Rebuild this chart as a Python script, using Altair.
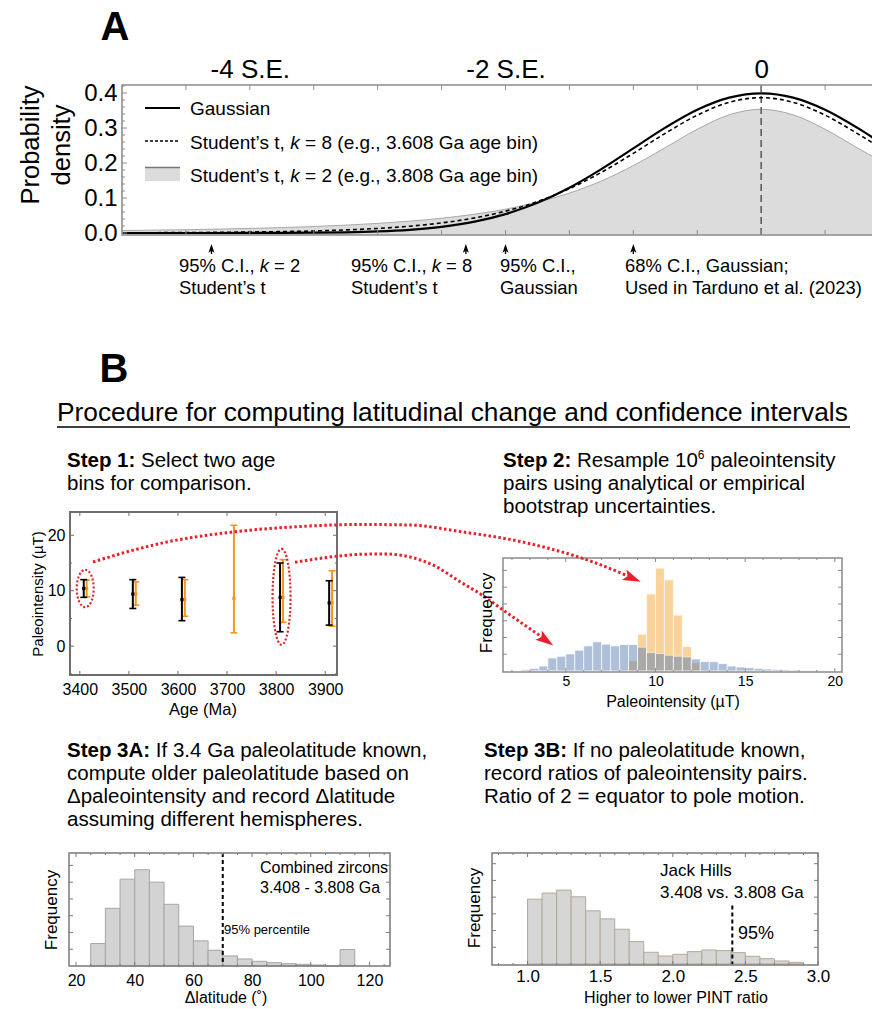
import altair as alt
import pandas as pd

FONT = "Liberation Sans, Arial, Helvetica, sans-serif"
W, H = 872, 1009

# ---------------- Panel A: probability densities vs. standard errors ----------------
se_units = [-5.0, -4.75, -4.5, -4.25, -4.0, -3.75, -3.5, -3.25, -3.0, -2.75, -2.5, -2.25,
            -2.0, -1.75, -1.5, -1.25, -1.0, -0.75, -0.5, -0.25, 0.0, 0.25, 0.5, 0.75, 1.0]
dens_gauss = [0.0000, 0.0000, 0.0000, 0.0000, 0.0001, 0.0004, 0.0009, 0.0020, 0.0044, 0.0091,
              0.0175, 0.0317, 0.0540, 0.0863, 0.1295, 0.1826, 0.2420, 0.3011, 0.3521, 0.3867,
              0.3989, 0.3867, 0.3521, 0.3011, 0.2420]
dens_t8 = [0.0007, 0.0009, 0.0013, 0.0019, 0.0028, 0.0040, 0.0059, 0.0088, 0.0130, 0.0194,
           0.0288, 0.0426, 0.0624, 0.0899, 0.1268, 0.1733, 0.2276, 0.2848, 0.3367, 0.3734,
           0.3867, 0.3734, 0.3367, 0.2848, 0.2276]
dens_t2 = [0.0071, 0.0082, 0.0095, 0.0111, 0.0131, 0.0155, 0.0186, 0.0225, 0.0274, 0.0338,
           0.0422, 0.0533, 0.0680, 0.0878, 0.1141, 0.1487, 0.1925, 0.2438, 0.2963, 0.3376,
           0.3536, 0.3376, 0.2963, 0.2438, 0.1925]
ci_positions = [-4.30, -2.31, -2.0, -1.0]
se_label_values = [-4, -2, 0]
density_ticks = [0.0, 0.1, 0.2, 0.3, 0.4]

# ---------------- Step 1: paleointensity per age bin ----------------
ages_black = [3408, 3508, 3608, 3808, 3908]
pint_black = [10.4, 9.4, 8.4, 8.8, 7.8]
low_black = [8.8, 6.8, 4.6, 2.6, 3.8]
high_black = [12.0, 12.0, 12.4, 15.0, 11.8]
ages_orange = [3414, 3514, 3614, 3714, 3814, 3914]
pint_orange = [10.4, 9.4, 8.4, 8.6, 8.8, 7.8]
low_orange = [8.9, 7.4, 5.4, 2.4, 4.3, 3.6]
high_orange = [11.9, 11.6, 12.0, 21.8, 15.6, 13.6]
age_ticks = [3400, 3500, 3600, 3700, 3800, 3900]
pint_ticks = [0, 10, 20]
selected_bins = [(3411, 10.4), (3811, 8.9)]

# ---------------- Step 2: resampled paleointensity histograms ----------------
blue_bin_start = [2.5, 3.0, 3.5, 4.0, 4.5, 5.0, 5.5, 6.0, 6.5, 7.0, 7.5, 8.0, 8.5, 9.0, 9.5,
                  10.0, 10.5, 11.0, 11.5, 12.0, 12.5, 13.0, 13.5, 14.0, 14.5, 15.0, 15.5,
                  16.0, 16.5, 17.0, 17.5, 18.0, 18.5, 19.0]
blue_freq = [4, 8, 15, 39, 44, 51, 62, 75, 87, 80, 75, 79, 79, 71, 55,
             52, 47, 44, 42, 36, 28, 28, 22, 15, 12, 10, 8,
             6, 5, 4, 3, 2, 2, 1]
orange_bin_start = [8.0, 8.5, 9.0, 9.5, 10.0, 10.5, 11.0, 11.5, 12.0, 12.5]
orange_freq = [3, 30, 110, 230, 307, 272, 167, 73, 25, 3]
pint_bin_width = 0.5
pint_hist_ticks = [5, 10, 15, 20]

# ---------------- Step 3A: latitude change histogram ----------------
dlat_bin_start = [25, 30, 35, 40, 45, 50, 55, 60, 65, 70, 75, 80, 85, 90, 95, 100, 105, 110]
dlat_freq = [67, 172, 259, 287, 250, 184, 119, 75, 47, 30, 21, 14, 10, 7, 5, 3, 0, 49]
dlat_bin_width = 5
dlat_p95 = 70
dlat_ticks = [20, 40, 60, 80, 100, 120]

# ---------------- Step 3B: paleointensity ratio histogram ----------------
ratio_bin_start = [1.0, 1.1, 1.2, 1.3, 1.4, 1.5, 1.6, 1.7, 1.8, 1.9,
                   2.0, 2.1, 2.2, 2.3, 2.4, 2.5, 2.6, 2.7, 2.8]
ratio_freq = [194, 212, 221, 201, 159, 135, 104, 67, 35, 24,
              29, 37, 42, 40, 34, 23, 16, 9, 5]
ratio_bin_width = 0.1
ratio_p95 = 2.41
ratio_p95_height = 175
ratio_ticks = [1.0, 1.5, 2.0, 2.5, 3.0]


# ---------------- layout: plot boxes (left, right, top, bottom) and scales ----------------
def box_scale(domain, rng):
    return alt.Scale(domain=domain, range=rng, nice=False, zero=False)


A_BOX = (122, 873, 85, 235)
A_X = box_scale([-5.0, 0.867], [122, 872])
A_YLO = -0.0057
A_Y = box_scale([A_YLO, 0.4229], [235, 85])

S1_BOX = (70, 337, 512, 675)
S1_X = box_scale([3380, 3924], [70, 337])
S1_Y = box_scale([-5.2, 24.2], [675, 512])

S2_BOX = (503, 842, 558, 672)
S2_X = box_scale([1.5, 20.4], [503, 842])
S2_Y = box_scale([-3, 337], [672, 558])

S3A_BOX = (69, 390, 853, 966)
S3A_X = box_scale([17.6, 127.0], [69, 390])
S3A_Y = box_scale([0, 337], [966, 853])

S3B_BOX = (492, 818, 853, 965)
S3B_X = box_scale([0.755, 3.0], [492, 818])
S3B_Y = box_scale([-3, 332], [965, 853])

layers = []
ONE = pd.DataFrame({"z": [0]})


def qx(field, scale, axis=None):
    return alt.X(f"{field}:Q", scale=scale, axis=axis)


def qy(field, scale, axis=None):
    return alt.Y(f"{field}:Q", scale=scale, axis=axis)


def px(field):
    return alt.X(f"{field}:Q", scale=None, axis=None)


def py(field):
    return alt.Y(f"{field}:Q", scale=None, axis=None)


def axis(orient, offset, values, size, pad, fmt=None, expr=None):
    kw = dict(orient=orient, offset=offset, values=values, domain=False, ticks=False, grid=False,
              labelFont=FONT, labelFontSize=size, labelColor="black", labelPadding=pad,
              labelFlush=False, labelOverlap=False, title=None)
    if fmt:
        kw["format"] = fmt
    if expr:
        kw["labelExpr"] = expr
    return alt.Axis(**kw)


def frame(box, sx, sy, xmaj, xmin, ymaj, ymin, color, sw, lmaj=5, lmin=3, right=True):
    left, rgt, top, bottom = box
    out = [alt.Chart(ONE).mark_rect(filled=False, stroke=color, strokeWidth=sw).encode(
        x=alt.value(left), x2=alt.value(rgt), y=alt.value(top), y2=alt.value(bottom))]
    xr = []
    for vals, ln in ((xmaj, lmaj), (xmin, lmin)):
        for v in vals:
            xr.append((v, bottom, bottom - ln))
            xr.append((v, top, top + ln))
    if xr:
        d = pd.DataFrame(xr, columns=["v", "p0", "p1"])
        out.append(alt.Chart(d).mark_rule(color=color, strokeWidth=1).encode(
            x=qx("v", sx), y=py("p0"), y2="p1:Q"))
    yr = []
    for vals, ln in ((ymaj, lmaj), (ymin, lmin)):
        for v in vals:
            yr.append((v, left, left + ln))
            if right:
                yr.append((v, rgt, rgt - ln))
    if yr:
        d = pd.DataFrame(yr, columns=["v", "p0", "p1"])
        out.append(alt.Chart(d).mark_rule(color=color, strokeWidth=1).encode(
            y=qy("v", sy), x=px("p0"), x2="p1:Q"))
    return out


def bars(starts, freqs, width, sx, sy, fill, stroke, opacity=1.0, sw=1.0, x_axis=None):
    d = pd.DataFrame({"lo": starts, "f": freqs})
    d["hi"] = d["lo"] + width
    return alt.Chart(d).mark_bar(fill=fill, stroke=stroke, strokeWidth=sw, opacity=opacity).encode(
        x=qx("lo", sx, x_axis), x2="hi:Q", y=qy("f", sy), y2=alt.datum(0))


# ---------------- text helpers ----------------
REG_W = {}
for chars, w in [("0123456789", 556), ("abdeghnopqu", 556), ("ckvxyzsJ", 500),
                 ("fIt ,.:;!/", 278), ("ijl", 222), ("r()-", 333), ("mM", 833), ("w", 722),
                 ("ABEKPSVXY", 667), ("CDHNRU", 722), ("FTZ", 611), ("GOQ", 778), ("L", 556),
                 ("W", 944), ("%", 889), ("=", 584), ("'", 191), ("\u2019", 222),
                 ("\u0394", 668), ("\u00b5", 556)]:
    for ch in chars:
        REG_W[ch] = w
BOLD_W = {"A": 722, "B": 722, "S": 667, "t": 333, "e": 556, "p": 611, ":": 333, " ": 278}


def tw(s, size, bold=False):
    total = 0
    for ch in s:
        total += BOLD_W.get(ch, REG_W.get(ch, 556)) if bold else REG_W.get(ch, 556)
    return total * size / 1000.0


TEXT_ROWS = {}


def put(txt, x, y, size, weight="normal", style="normal", align="left", angle=0):
    TEXT_ROWS.setdefault((size, weight, style, align, angle), []).append((txt, x, y))


def put_run(segments, x, y):
    cx = x
    for seg in segments:
        txt, size = seg[0], seg[1]
        weight = seg[2] if len(seg) > 2 else "normal"
        style = seg[3] if len(seg) > 3 else "normal"
        rise = seg[4] if len(seg) > 4 else 0
        body = txt.lstrip(" ")
        cx += tw(txt[: len(txt) - len(body)], size, weight == "bold")
        put(body.rstrip(" "), cx, y - rise, size, weight, style)
        cx += tw(body, size, weight == "bold")


# ================= Panel A =================
dfA = pd.DataFrame({"se": se_units, "g": dens_gauss, "t8": dens_t8, "t2": dens_t2})
layers.append(alt.Chart(dfA).mark_area(color="#DCDCDC", interpolate="monotone").encode(
    x=qx("se", A_X), y=qy("t2", A_Y), y2=alt.datum(A_YLO)))
layers.append(alt.Chart(dfA).mark_line(color="#A8A8A8", strokeWidth=1, interpolate="monotone").encode(
    x=qx("se", A_X), y=qy("t2", A_Y)))
layers.append(alt.Chart(pd.DataFrame({"v": [0.0]})).mark_rule(
    color="#555555", strokeWidth=1.5, strokeDash=[7, 4]).encode(
    x=qx("v", A_X), y=alt.value(85), y2=alt.value(235)))
layers.append(alt.Chart(dfA).mark_line(color="black", strokeWidth=1.6, strokeDash=[4, 3],
                                       interpolate="monotone").encode(
    x=qx("se", A_X), y=qy("t8", A_Y)))
layers.append(alt.Chart(dfA).mark_line(color="black", strokeWidth=2.2, interpolate="monotone").encode(
    x=qx("se", A_X, axis("top", -85, se_label_values, 26, 3,
                          expr="datum.value == 0 ? '0' : datum.value + ' S.E.'")),
    y=qy("g", A_Y, axis("left", -122, density_ticks, 24, 5, fmt=".1f"))))
layers += frame(A_BOX, A_X, A_Y,
                [-4.5 + 0.5 * i for i in range(11)], [],
                density_ticks, [round(0.02 * i, 2) for i in range(22) if i % 5],
                "#8C8C8C", 1.6, lmaj=5, lmin=3, right=False)

# confidence-interval arrows below the axis
ARROW_UP = "M0,-1L0.65,0.9L0,0.45L-0.65,0.9Z"
dfCI = pd.DataFrame({"v": ci_positions})
layers.append(alt.Chart(dfCI).mark_rule(color="black", strokeWidth=1.3).encode(
    x=qx("v", A_X), y=alt.value(247), y2=alt.value(254)))
layers.append(alt.Chart(dfCI).mark_point(shape=ARROW_UP, size=85, filled=True, color="black",
                                         opacity=1).encode(x=qx("v", A_X), y=alt.value(248.6)))

# legend
layers.append(alt.Chart(ONE).mark_rule(color="black", strokeWidth=2).encode(
    x=alt.value(145), x2=alt.value(180), y=alt.value(108)))
layers.append(alt.Chart(ONE).mark_rule(color="black", strokeWidth=1.5, strokeDash=[3, 2]).encode(
    x=alt.value(145), x2=alt.value(180), y=alt.value(141)))
layers.append(alt.Chart(ONE).mark_rect(color="#DCDCDC").encode(
    x=alt.value(145), x2=alt.value(180), y=alt.value(167), y2=alt.value(181)))
layers.append(alt.Chart(ONE).mark_rule(color="#777777", strokeWidth=1.5).encode(
    x=alt.value(145), x2=alt.value(180), y=alt.value(167.5)))

LEG = 19
put("Gaussian", 190, 115, LEG)
put_run([("Student\u2019s t, ", LEG), ("k", LEG, "normal", "italic"),
         (" = 8 (e.g., 3.608 Ga age bin)", LEG)], 190, 148.5)
put_run([("Student\u2019s t, ", LEG), ("k", LEG, "normal", "italic"),
         (" = 2 (e.g., 3.808 Ga age bin)", LEG)], 190, 182)

ANN = 18.4
put_run([("95% C.I., ", ANN), ("k", ANN, "normal", "italic"), (" = 2", ANN)], 179, 272)
put("Student\u2019s t", 179, 294, ANN)
put_run([("95% C.I., ", ANN), ("k", ANN, "normal", "italic"), (" = 8", ANN)], 351, 272)
put("Student\u2019s t", 351, 294, ANN)
put("95% C.I.,", 500, 272, ANN)
put("Gaussian", 500, 294, ANN)
put("68% C.I., Gaussian;", 625, 272, ANN)
put("Used in Tarduno et al. (2023)", 625, 294, ANN)

put("Probability", 31, 145, 25.5, align="center", angle=270)
put("density", 62, 145, 25.5, align="center", angle=270)
put("A", 115, 40, 40, weight="bold", align="center")

# ================= Section B headings =================
put("B", 114, 382, 40, weight="bold", align="center")
put("Procedure for computing latitudinal change and confidence intervals", 57, 421, 26.3)
layers.append(alt.Chart(ONE).mark_rule(color="black", strokeWidth=1.5).encode(
    x=alt.value(57), x2=alt.value(850), y=alt.value(427)))

ST = 20.5
put_run([("Step 1:", ST, "bold"), (" Select two age", ST)], 67, 467)
put("bins for comparison.", 67, 490, ST)
put_run([("Step 2:", ST, "bold"), (" Resample 10", ST), ("6", 12, "normal", "normal", 8),
         (" paleointensity", ST)], 503, 467)
put("pairs using analytical or empirical", 503, 490, ST)
put("bootstrap uncertainties.", 503, 513, ST)
put_run([("Step 3A:", ST, "bold"), (" If 3.4 Ga paleolatitude known,", ST)], 67, 757)
put("compute older paleolatitude based on", 67, 780, ST)
put("\u0394paleointensity and record \u0394latitude", 67, 803, ST)
put("assuming different hemispheres.", 67, 826, ST)
put_run([("Step 3B:", ST, "bold"), (" If no paleolatitude known,", ST)], 484, 757)
put("record ratios of paleointensity pairs.", 484, 780, ST)
put("Ratio of 2 = equator to pole motion.", 484, 803, ST)

# ================= Step 1 panel =================
layers += frame(S1_BOX, S1_X, S1_Y, age_ticks, [], pint_ticks, [-5, 5, 15], "#6E6E6E", 2,
                lmaj=4, lmin=2)
ORANGE = "#F7941D"
for ages, mid, lo, hi, col, first in ((ages_orange, pint_orange, low_orange, high_orange, ORANGE, False),
                                      (ages_black, pint_black, low_black, high_black, "black", True)):
    d = pd.DataFrame({"age": ages, "mid": mid, "lo": lo, "hi": hi})
    if first:
        ex = axis("bottom", -(H - 675), age_ticks, 16, 6, fmt="d")
        ey = axis("left", -70, pint_ticks, 16, 5, fmt="d")
    else:
        ex = ey = None
    layers.append(alt.Chart(d).mark_rule(color=col, strokeWidth=2).encode(
        x=qx("age", S1_X, ex), y=qy("lo", S1_Y, ey), y2="hi:Q"))
    caps = pd.DataFrame({"age": ages + ages, "cap": lo + hi})
    layers.append(alt.Chart(caps).mark_point(shape="stroke", size=49, filled=False, color=col,
                                             strokeWidth=1.6, opacity=1).encode(
        x=qx("age", S1_X), y=qy("cap", S1_Y)))
    layers.append(alt.Chart(d).mark_point(shape="square", size=10, filled=True, color=col,
                                          opacity=1).encode(x=qx("age", S1_X), y=qy("mid", S1_Y)))


def ellipse_path(a):
    k = 0.5523
    return (f"M0,-1C{a * k:.4f},-1 {a:.4f},{-k} {a:.4f},0"
            f"C{a:.4f},{k} {a * k:.4f},1 0,1"
            f"C{-a * k:.4f},1 {-a:.4f},{k} {-a:.4f},0"
            f"C{-a:.4f},{-k} {-a * k:.4f},-1 0,-1Z")


RED = "#E8202A"
for (age, val), half_h, half_w in zip(selected_bins, (18.7, 48.0), (8.5, 9.0)):
    d = pd.DataFrame({"age": [age], "v": [val]})
    layers.append(alt.Chart(d).mark_point(shape=ellipse_path(half_w / half_h), size=(2 * half_h) ** 2,
                                          filled=False, color=RED, strokeWidth=2.2,
                                          strokeDash=[2, 2], opacity=1).encode(
        x=qx("age", S1_X), y=qy("v", S1_Y)))

put("Paleointensity (\u00b5T)", 38, 594, 15, align="center", angle=270)
put("Age (Ma)", 203, 715, 16.5, align="center")

# ================= Step 2 panel =================
layers.append(bars(orange_bin_start, orange_freq, pint_bin_width, S2_X, S2_Y, "#F7A937", "white",
                   opacity=0.5, sw=0.8,
                   x_axis=axis("bottom", -(H - 672), pint_hist_ticks, 14, 2, fmt="d")))
layers.append(bars(blue_bin_start, blue_freq, pint_bin_width, S2_X, S2_Y, "#5E81B5", "white",
                   opacity=0.5, sw=0.8))
layers += frame(S2_BOX, S2_X, S2_Y, pint_hist_ticks, [v for v in range(2, 21) if v % 5],
                [50, 100, 150, 200, 250, 300], [], "#8A8A8A", 1.5, lmaj=4, lmin=2)
put("Frequency", 487, 613, 17, align="center", angle=270)
put("Paleointensity (\u00b5T)", 673, 707, 16, align="center")

# ================= Step 3A panel =================
layers.append(bars(dlat_bin_start, dlat_freq, dlat_bin_width, S3A_X, S3A_Y, "#D3D3D3", "#A5A5A5",
                   sw=1.0, x_axis=axis("bottom", -(H - 966), dlat_ticks, 16, 6, fmt="d")))
layers.append(alt.Chart(pd.DataFrame({"v": [dlat_p95]})).mark_rule(
    color="black", strokeWidth=2, strokeDash=[4, 3]).encode(
    x=qx("v", S3A_X), y=alt.value(853), y2=alt.value(966)))
layers += frame(S3A_BOX, S3A_X, S3A_Y, dlat_ticks, [v for v in range(25, 126, 5) if v % 20],
                [50, 100, 150, 200, 250, 300], [], "#7A7A7A", 1.5, lmaj=4, lmin=2)
put("Frequency", 52, 910, 17, align="center", angle=270)
put("\u0394latitude (\u02da)", 226, 1003, 16, align="center")
put("Combined zircons", 260, 872.5, 16)
put("3.408 - 3.808 Ga", 260, 892.5, 16)
put("95% percentile", 224, 934, 13)

# ================= Step 3B panel =================
layers.append(bars(ratio_bin_start, ratio_freq, ratio_bin_width, S3B_X, S3B_Y, "#D6D6D6", "#B3A897",
                   sw=1.0, x_axis=axis("bottom", -(H - 965), ratio_ticks, 17, 3, fmt=".1f")))
layers.append(alt.Chart(pd.DataFrame({"v": [ratio_p95], "top": [ratio_p95_height]})).mark_rule(
    color="black", strokeWidth=2, strokeDash=[4, 3]).encode(
    x=qx("v", S3B_X), y=qy("top", S3B_Y), y2=alt.datum(0)))
layers += frame(S3B_BOX, S3B_X, S3B_Y, ratio_ticks, [round(0.8 + 0.1 * i, 1) for i in range(23) if i % 5 != 2],
                [50, 100, 150, 200, 250, 300], [], "#7A7A7A", 1.5, lmaj=4, lmin=2)
put("Frequency", 475, 908, 17, align="center", angle=270)
put("Higher to lower PINT ratio", 676, 1003, 16, align="center")
put("Jack Hills", 660, 876, 17)
put("3.408 vs. 3.808 Ga", 660, 898, 17)
put("95%", 738, 939, 18)

# ================= red connector arrows (Step 1 -> Step 2) =================
curve_a = pd.DataFrame({"px": [93, 130, 167, 233, 300, 360, 410, 460, 527, 593, 628],
                        "py": [562, 551, 542, 532, 526.5, 524.5, 525, 531.5, 543, 562, 576]})
curve_b = pd.DataFrame({"px": [295, 333, 360, 385, 410, 435, 460, 482, 503, 527, 542],
                        "py": [562.3, 556.7, 554.3, 554, 557, 566, 581.7, 595, 610, 626.7, 637]})
for cv in (curve_a, curve_b):
    layers.append(alt.Chart(cv).mark_line(color=RED, strokeWidth=3, strokeDash=[2.5, 2.5],
                                          interpolate="monotone").encode(x=px("px"), y=py("py")))
ARROW_HEAD = "M0,-1L0.6,0.9L0,0.5L-0.6,0.9Z"
for cx, cy, ang in ((632, 578, 113), (545.5, 640, 125)):
    layers.append(alt.Chart(pd.DataFrame({"px": [cx], "py": [cy]})).mark_point(
        shape=ARROW_HEAD, size=357, filled=True, color=RED, opacity=1, angle=ang).encode(
        x=px("px"), y=py("py")))

# ================= text layers =================
for (size, weight, style, align, angle), rows in TEXT_ROWS.items():
    d = pd.DataFrame(rows, columns=["txt", "px", "py"])
    kw = dict(font=FONT, fontSize=size, fontWeight=weight, fontStyle=style, align=align,
              color="black")
    if angle:
        kw["angle"] = angle
        kw["baseline"] = "middle"
    else:
        kw["baseline"] = "alphabetic"
    layers.append(alt.Chart(d).mark_text(**kw).encode(x=px("px"), y=py("py"), text="txt:N"))

chart = alt.layer(*layers).resolve_scale(x="independent", y="independent").properties(
    width=W, height=H, padding=0, autosize=alt.AutoSizeParams(type="none"),
    background="white").configure_view(stroke=None)

chart.save("out.html", embed_options={"renderer": "svg", "actions": False})
